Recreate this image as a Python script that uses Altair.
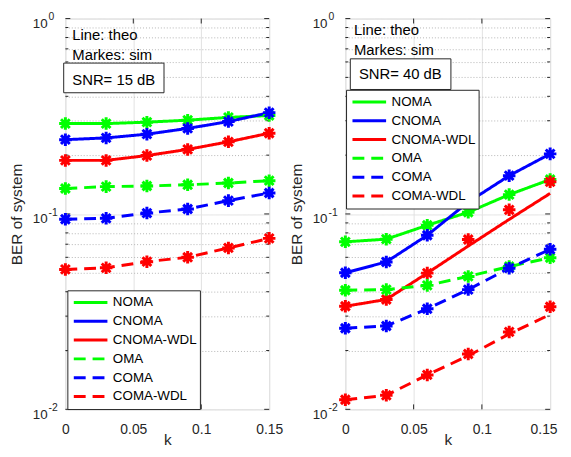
import altair as alt
import pandas as pd

# ---------------- data ----------------
k_vals = [0, 0.03, 0.06, 0.09, 0.12, 0.15]
series_names = ["NOMA", "CNOMA", "CNOMA-WDL", "OMA", "COMA", "COMA-WDL"]
series_colors = ["#00ff00", "#0000ff", "#ff0000", "#00ff00", "#0000ff", "#ff0000"]
series_dash = [[1, 0], [1, 0], [1, 0], [12, 7], [12, 7], [12, 7]]

# SNR = 15 dB (theory lines; simulation markers coincide)
snr15_noma = [0.290, 0.290, 0.295, 0.302, 0.312, 0.319]
snr15_cnoma = [0.240, 0.245, 0.256, 0.274, 0.297, 0.330]
snr15_cnoma_wdl = [0.188, 0.188, 0.199, 0.214, 0.234, 0.259]
snr15_oma = [0.135, 0.138, 0.139, 0.141, 0.144, 0.148]
snr15_coma = [0.094, 0.095, 0.101, 0.106, 0.117, 0.128]
snr15_coma_wdl = [0.052, 0.053, 0.057, 0.060, 0.067, 0.075]

# SNR = 40 dB theory (lines)
snr40_noma = [0.072, 0.0743, 0.0875, 0.102, 0.1256, 0.150]
snr40_cnoma = [0.050, 0.0568, 0.0778, 0.115, 0.157, 0.203]
snr40_cnoma_wdl = [0.0337, 0.0365, 0.0498, 0.0685, 0.0938, 0.1274]
snr40_oma = [0.0407, 0.041, 0.0431, 0.0479, 0.0538, 0.0597]
snr40_coma = [0.026, 0.0267, 0.0327, 0.041, 0.0528, 0.0659]
snr40_coma_wdl = [0.0112, 0.0118, 0.0150, 0.0188, 0.0243, 0.0306]

# SNR = 40 dB simulation (markers) where they differ from theory
snr40_sim_cnoma_wdl = [0.0337, 0.0365, 0.0498, 0.074, 0.105, 0.146]
snr40_sim_coma_wdl = [0.0112, 0.0118, 0.0150, 0.0192, 0.0249, 0.0335]

x_ticks = [0, 0.05, 0.1, 0.15]
y_major = [0.01, 0.1, 1]
y_minor = [0.02, 0.03, 0.04, 0.05, 0.06, 0.07, 0.08, 0.09,
           0.2, 0.3, 0.4, 0.5, 0.6, 0.7, 0.8, 0.9]
y_exponents = ["-2", "-1", "0"]

snr15_theo = [snr15_noma, snr15_cnoma, snr15_cnoma_wdl, snr15_oma, snr15_coma, snr15_coma_wdl]
snr15_sim = snr15_theo
snr40_theo = [snr40_noma, snr40_cnoma, snr40_cnoma_wdl, snr40_oma, snr40_coma, snr40_coma_wdl]
snr40_sim = [snr40_noma, snr40_cnoma, snr40_sim_cnoma_wdl, snr40_oma, snr40_coma, snr40_sim_coma_wdl]

FONT = "Liberation Sans"
AXC = "#262626"
H = 395
ASTERISK = "M-1,0L1,0M0,-1L0,1M-0.7,-0.7L0.7,0.7M-0.7,0.7L0.7,-0.7"


def make_frame(theo, sim):
    rows = []
    for name, t, s in zip(series_names, theo, sim):
        for kv, tv, sv in zip(k_vals, t, s):
            rows.append({"k": kv, "ber": tv, "series": name, "kind": "theo"})
            rows.append({"k": kv, "ber": sv, "series": name, "kind": "sim"})
    return pd.DataFrame(rows)


xscale = alt.Scale(domain=[0, 0.15], nice=False, zero=False)
yscale = alt.Scale(type="log", domain=[0.01, 1], nice=False)

major_test = "indexof(" + str(y_major) + ", datum.value) >= 0"
last_test = "datum.value >= " + str(x_ticks[-1] - 0.001)


def make_xaxis(flush_last):
    extra = {}
    if flush_last:
        extra = dict(
            labelAlign={"condition": {"test": last_test, "value": "right"}, "value": "center"},
            labelOffset={"condition": {"test": last_test, "value": 7}, "value": 0},
        )
    return alt.Axis(values=x_ticks, labelExpr="'' + datum.value", ticks=False, domain=False,
                    grid=True, gridColor="#e2e2e2", gridWidth=1, labelFont=FONT, labelFontSize=14,
                    labelColor=AXC, labelPadding=13, title="k", titleFont=FONT,
                    titleFontSize=15.5, titleFontWeight="normal", titleColor=AXC,
                    titleBaseline="alphabetic", titlePadding=9, labelFlush=False, **extra)


yaxis = alt.Axis(values=y_major + y_minor, labels=False, ticks=False, domain=False, grid=True,
                 gridColor={"condition": {"test": major_test, "value": "#e2e2e2"}, "value": "#b5b5b5"},
                 gridDash={"condition": {"test": major_test, "value": [1, 0]}, "value": [1, 2]},
                 title="BER of system", titleFont=FONT, titleFontSize=15.5,
                 titleFontWeight="normal", titleColor=AXC, titleBaseline="bottom",
                 titlePadding=41.3)

Y = alt.Y("ber:Q", scale=yscale, axis=yaxis)


def panel(df, width, legend_xy, notes_xy, box, snr_text, snr_xy, flush_last):
    X = alt.X("k:Q", scale=xscale, axis=make_xaxis(flush_last))
    legend = alt.Legend(orient="none", legendX=legend_xy[0], legendY=legend_xy[1], title=None,
                        symbolType="stroke", symbolSize=1156, symbolStrokeWidth=3,
                        clipHeight=18.6, labelFont=FONT, labelFontSize=13.5, labelColor="black",
                        padding=3, rowPadding=0, labelOffset=4, symbolOffset=2,
                        strokeColor=AXC, fillColor="white", cornerRadius=0, labelLimit=200)
    base = alt.Chart(df)
    lines = base.transform_filter("datum.kind == 'theo'").mark_line(strokeWidth=3).encode(
        x=X, y=Y,
        color=alt.Color("series:N", scale=alt.Scale(domain=series_names, range=series_colors), legend=legend),
        strokeDash=alt.StrokeDash("series:N", scale=alt.Scale(domain=series_names, range=series_dash), legend=legend),
    )
    points = base.transform_filter("datum.kind == 'sim'").mark_point(
        shape=ASTERISK, size=160, strokeWidth=3, filled=False, opacity=1).encode(
        x=X, y=Y,
        stroke=alt.Stroke("series:N", scale=alt.Scale(domain=series_names, range=series_colors), legend=None),
    )

    tick_major = pd.DataFrame({"ber": y_major})
    tick_minor = pd.DataFrame({"ber": y_minor})
    tick_x = pd.DataFrame({"k": x_ticks[1:-1]})
    rule = dict(color=AXC, strokeWidth=1)
    ticks = [
        alt.Chart(tick_major).mark_rule(**rule).encode(x=alt.value(0), x2=alt.value(5), y=Y),
        alt.Chart(tick_major).mark_rule(**rule).encode(x=alt.value(width - 5), x2=alt.value(width), y=Y),
        alt.Chart(tick_minor).mark_rule(**rule).encode(x=alt.value(0), x2=alt.value(3), y=Y),
        alt.Chart(tick_minor).mark_rule(**rule).encode(x=alt.value(width - 3), x2=alt.value(width), y=Y),
        alt.Chart(tick_x).mark_rule(**rule).encode(x=X, y=alt.value(H - 5), y2=alt.value(H)),
        alt.Chart(tick_x).mark_rule(**rule).encode(x=X, y=alt.value(0), y2=alt.value(5)),
    ]

    ylab = pd.DataFrame({"ber": y_major, "e": y_exponents})
    ten = alt.Chart(ylab).mark_text(text="10", align="right", baseline="alphabetic", font=FONT,
                                    fontSize=13.5, color=AXC, dy=9.5).encode(x=alt.value(-18), y=Y)
    exp = alt.Chart(ylab).mark_text(align="left", baseline="alphabetic", font=FONT,
                                    fontSize=10.5, color=AXC, dy=1.7).encode(
        x=alt.value(-17), y=Y, text="e:N")

    one = pd.DataFrame({"d": [0]})
    note_style = dict(align="left", baseline="alphabetic", font=FONT, fontSize=15, color="black")
    n1 = alt.Chart(one).mark_text(text="Line: theo", **note_style).encode(
        x=alt.value(notes_xy[0]), y=alt.value(notes_xy[1]))
    n2 = alt.Chart(one).mark_text(text="Markes: sim", **note_style).encode(
        x=alt.value(notes_xy[0]), y=alt.value(notes_xy[2]))
    rect = alt.Chart(one).mark_rect(fill="white", stroke=AXC, strokeWidth=1).encode(
        x=alt.value(box[0]), x2=alt.value(box[1]), y=alt.value(box[2]), y2=alt.value(box[3]))
    n3 = alt.Chart(one).mark_text(text=snr_text, **note_style).encode(
        x=alt.value(snr_xy[0]), y=alt.value(snr_xy[1]))

    return alt.layer(*ticks, lines, points, ten, exp, n1, n2, rect, n3).properties(
        width=width, height=H)


left = panel(make_frame(snr15_theo, snr15_sim), 206, (2, 274.7), (7, 22, 42),
             (-1.7, 99.7, 45, 75), "SNR= 15 dB", (7, 67.3), False)
right = panel(make_frame(snr40_theo, snr40_sim), 207, (0.7, 72), (8.7, 17, 37),
              (5, 106.7, 40.7, 71.7), "SNR= 40 dB", (13.7, 61.3), True)

chart = alt.hconcat(left, right, spacing=5).resolve_scale(
    color="independent", strokeDash="independent", stroke="independent"
).resolve_legend(color="independent", strokeDash="independent").properties(
    padding={"left": 1, "top": 1.3, "right": 0, "bottom": -3}
).configure_view(stroke=AXC, strokeWidth=1).configure(font=FONT)

chart.save("out.html", embed_options={"renderer": "svg", "actions": False})
